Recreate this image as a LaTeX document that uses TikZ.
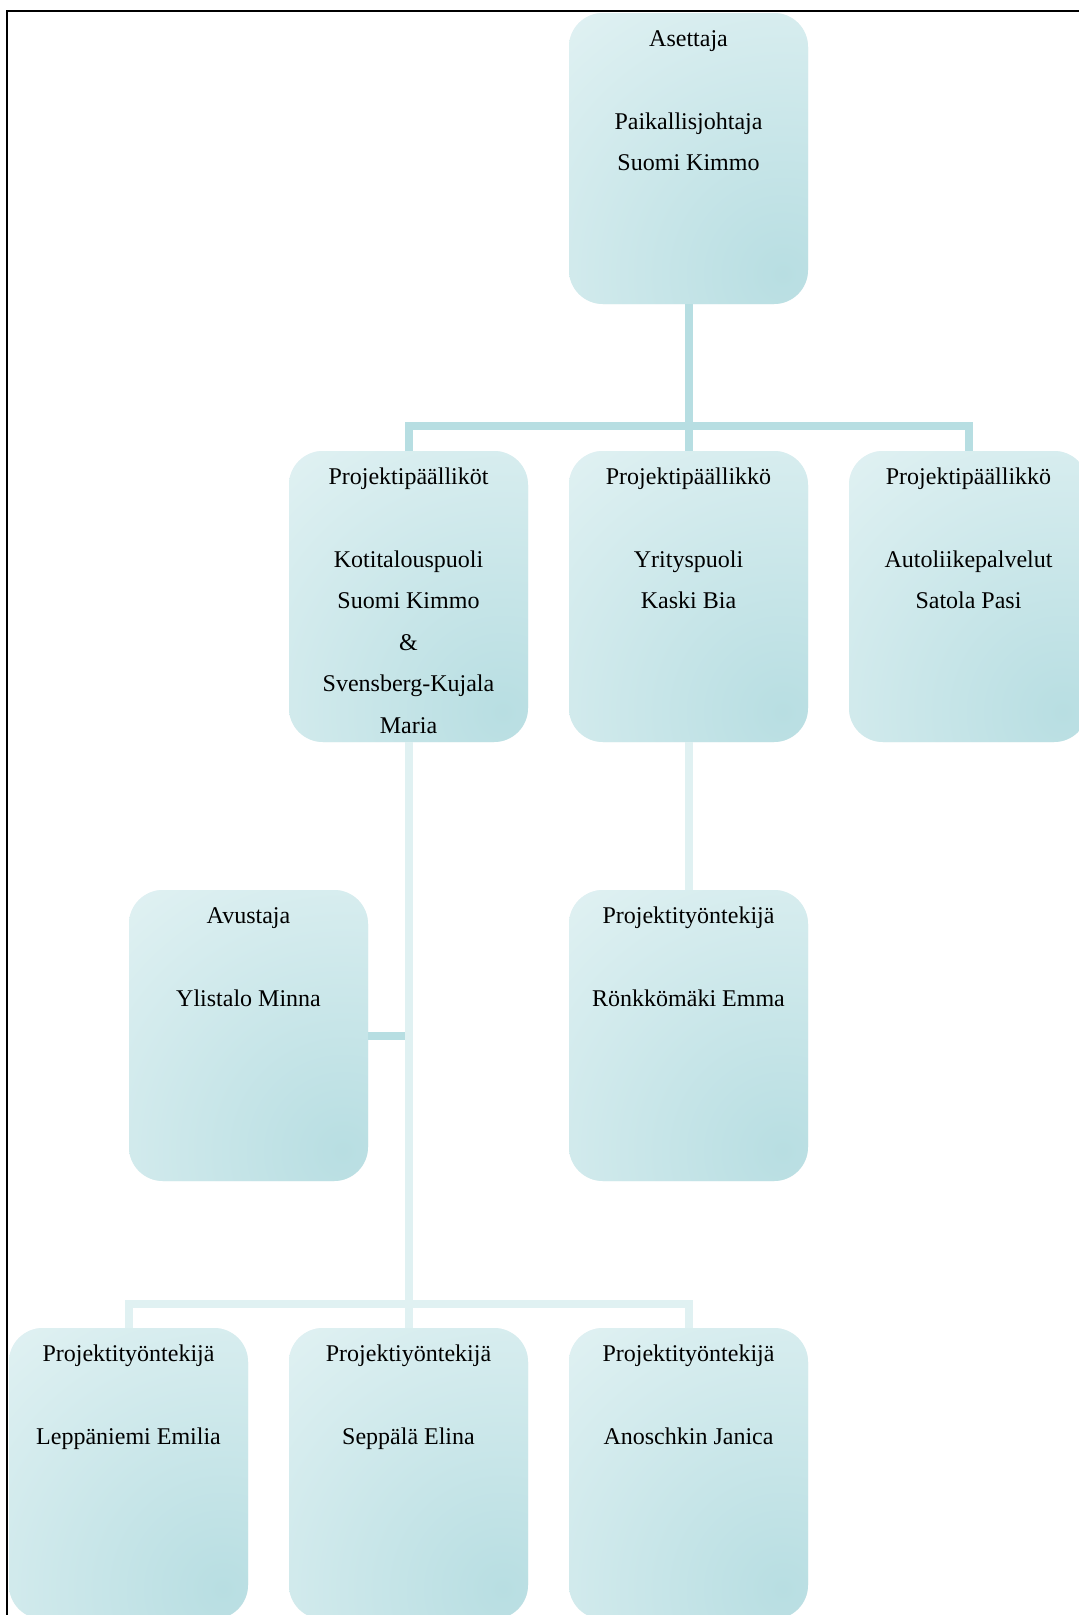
\documentclass[tikz,border=0pt]{standalone}
\usepackage{fontspec}
\setmainfont{Liberation Serif}
\definecolor{boxlight}{RGB}{228,243,244}
\definecolor{boxdark}{RGB}{184,222,226}
\definecolor{lndark}{RGB}{183,222,226}
\definecolor{lnlight}{RGB}{224,241,242}
\begin{document}
\begin{tikzpicture}[x=1pt,y=-1pt,
  orgbox/.style={rounded corners=34pt, minimum width=239pt, minimum height=291pt,
    inner sep=0pt, outer sep=0pt, anchor=north west, fill=boxlight,
    path picture={\shade[inner color=boxdark, outer color=boxlight]
      ([xshift=-25pt,yshift=30pt]path picture bounding box.south east) circle (370pt);}},
  txt/.style={anchor=north, inner sep=0pt, align=center,
    font=\fontsize{24}{41.5}\selectfont},
  lnd/.style={draw=lndark, line width=8pt},
  lnl/.style={draw=lnlight, line width=8pt}]
\useasboundingbox (0,0) rectangle (1079,1615);
\fill[white] (0,0) rectangle (1079,1615);
% frame
\draw[line width=2pt] (7,1620) -- (7,11) -- (1085,11);
% boxes
\node[orgbox] (b1) at (569,13) {};
\node[orgbox] (b2) at (289,451) {};
\node[orgbox] (b3) at (569,451) {};
\node[orgbox] (b4) at (849,451) {};
\node[orgbox] (b5) at (129,890) {};
\node[orgbox] (b6) at (569,890) {};
\node[orgbox] (b7) at (9,1328) {};
\node[orgbox] (b8) at (289,1328) {};
\node[orgbox] (b9) at (569,1328) {};
% connectors
\coordinate (j1) at (688.5,426);
\coordinate (j2) at (408.5,1304);
\draw[lnd] (b1.south) -- (j1);
\draw[lnd] (b2.north) |- (j1) -| (b4.north);
\draw[lnd] (j1) -- (b3.north);
\draw[lnd] (b2.south |- b5.east) -- (b5.east);
\draw[lnl] (b2.south) -- (j2);
\draw[lnl] (b7.north) |- (j2) -| (b9.north);
\draw[lnl] (j2) -- (b8.north);
\draw[lnl] (b3.south) -- (b6.north);
% texts
\newcommand{\fs}{\rule{0pt}{20pt}}
\node[txt] (t1) at ([yshift=-13pt]b1.north) {\fs Asettaja\\[41.5pt]Paikallisjohtaja\\Suomi Kimmo};
\node[txt] (t2) at ([yshift=-13pt]b2.north) {\fs Projektipäälliköt\\[41.5pt]Kotitalouspuoli\\Suomi Kimmo\\\&\\Svensberg-Kujala\\Maria};
\node[txt] (t3) at ([yshift=-13pt]b3.north) {\fs Projektipäällikkö\\[41.5pt]Yrityspuoli\\Kaski Bia};
\node[txt] (t4) at ([yshift=-13pt]b4.north) {\fs Projektipäällikkö\\[41.5pt]Autoliikepalvelut\\Satola Pasi};
\node[txt] (t5) at ([yshift=-13pt]b5.north) {\fs Avustaja\\[41.5pt]Ylistalo Minna};
\node[txt] (t6) at ([yshift=-13pt]b6.north) {\fs Projektityöntekijä\\[41.5pt]Rönkkömäki Emma};
\node[txt] (t7) at ([yshift=-13pt]b7.north) {\fs Projektityöntekijä\\[41.5pt]Leppäniemi Emilia};
\node[txt] (t8) at ([yshift=-13pt]b8.north) {\fs Projektiyöntekijä\\[41.5pt]Seppälä Elina};
\node[txt] (t9) at ([yshift=-13pt]b9.north) {\fs Projektityöntekijä\\[41.5pt]Anoschkin Janica};
\end{tikzpicture}
\end{document}
